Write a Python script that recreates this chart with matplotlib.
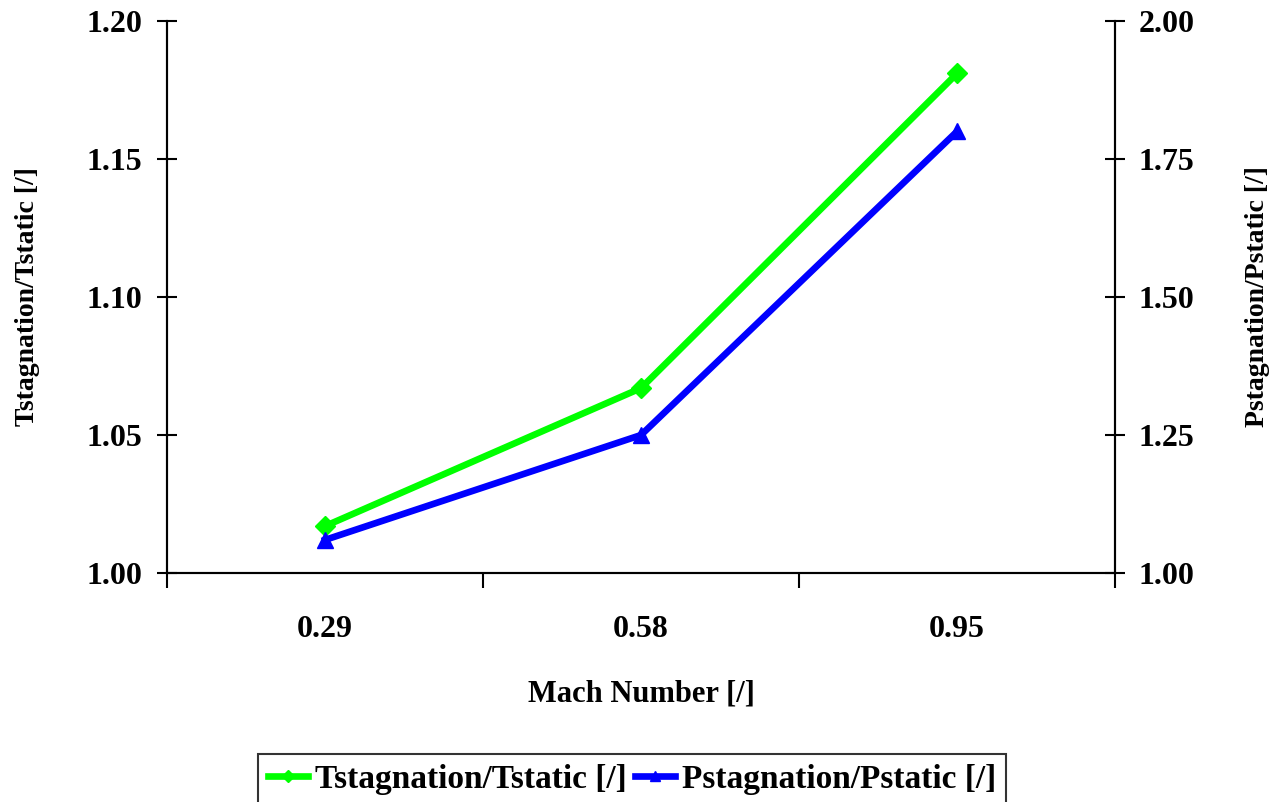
import numpy as np
import matplotlib
matplotlib.use("Agg")
import matplotlib.pyplot as plt

# data
mach_labels = ["0.29", "0.58", "0.95"]
t_ratio = [1.017, 1.067, 1.181]
p_ratio = [1.060, 1.250, 1.800]

plt.rcParams["font.family"] = ["Liberation Serif", "DejaVu Serif"]
plt.rcParams["font.weight"] = "bold"

fig = plt.figure(figsize=(12.78, 8.02), dpi=100)
ax = fig.add_axes([0.1307, 0.2855, 0.7418, 0.6883])
ax2 = ax.twinx()

x = np.arange(len(mach_labels))

lt, = ax.plot(x, t_ratio, color="#00ff00", lw=4.8, marker="D", ms=10,
              label="Tstagnation/Tstatic [/]", zorder=3)
lp, = ax2.plot(x, p_ratio, color="#0000ff", lw=4.8, marker="^", ms=12,
               label="Pstagnation/Pstatic [/]", zorder=3)

ax.set_xlim(-0.5, 2.5)
ax.set_ylim(1.0, 1.2)
ax2.set_ylim(1.0, 2.0)
ax.set_yticks(np.arange(1.0, 1.201, 0.05))
ax2.set_yticks(np.arange(1.0, 2.001, 0.25))
ax.yaxis.set_major_formatter(matplotlib.ticker.FormatStrFormatter("%.2f"))
ax2.yaxis.set_major_formatter(matplotlib.ticker.FormatStrFormatter("%.2f"))

# category axis: ticks between categories, labels at centres
ax.set_xticks([-0.5, 0.5, 1.5, 2.5])
ax.set_xticklabels([])
ax.set_xticks(x, minor=True)
ax.set_xticklabels(mach_labels, minor=True)
ax.tick_params(axis="x", which="minor", length=0, pad=30, labelsize=23)
ax.tick_params(axis="x", which="major", direction="out", length=11, width=1.5)

for a in (ax, ax2):
    a.spines["top"].set_visible(False)
    for s in a.spines.values():
        s.set_linewidth(1.5)
ax.tick_params(axis="y", direction="inout", length=14, width=1.5, pad=11, labelsize=23)
ax2.tick_params(axis="y", direction="inout", length=14, width=1.5, pad=10, labelsize=23)

ax.set_ylabel("Tstagnation/Tstatic [/]", fontsize=20, fontweight="bold")
ax2.set_ylabel("Pstagnation/Pstatic [/]", fontsize=20, fontweight="bold")
ax.yaxis.set_label_coords(-0.134, 0.5)
ax2.yaxis.set_label_coords(1.137, 0.5)
ax.set_xlabel("Mach Number [/]", fontsize=22, fontweight="bold", labelpad=26)

leg = fig.legend(handles=[lt, lp], loc="center", bbox_to_anchor=(0.4945, 0.028),
                 ncol=2, fontsize=24, frameon=True, fancybox=False,
                 handlelength=1.2, handletextpad=0.2, columnspacing=0.25,
                 borderpad=0.3, borderaxespad=0, markerscale=0.6)
leg.get_frame().set_edgecolor("black")
leg.get_frame().set_linewidth(1.5)

fig.savefig("out.png", dpi=100)
